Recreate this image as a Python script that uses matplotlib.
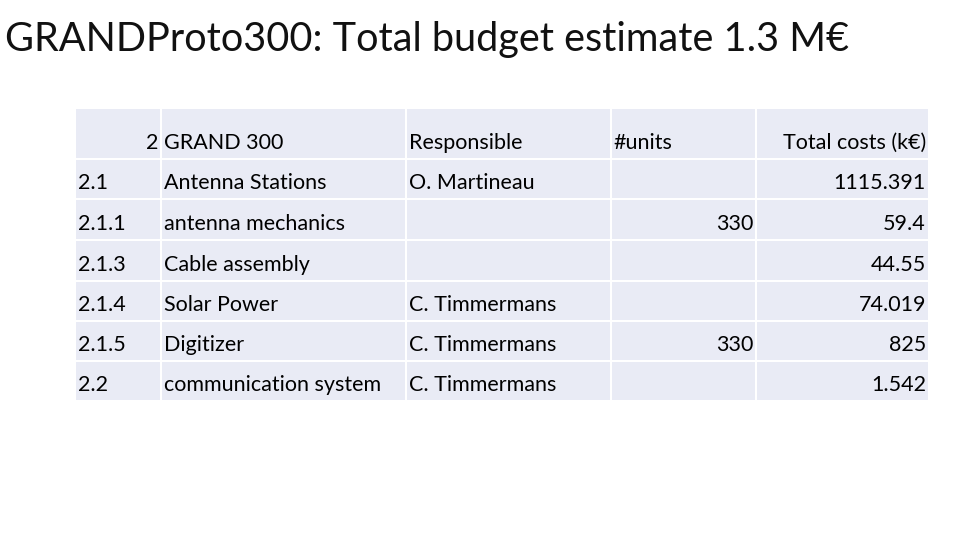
import matplotlib.pyplot as plt
from matplotlib.patches import Rectangle

plt.rcParams['font.family'] = ['Lato', 'DejaVu Sans']

title = "GRANDProto300: Total budget estimate 1.3 M€"
header = ["2", "GRAND 300", "Responsible", "#units", "Total costs (k€)"]
codes = ["2.1", "2.1.1", "2.1.3", "2.1.4", "2.1.5", "2.2"]
items = ["Antenna Stations", "antenna mechanics", "Cable assembly",
         "Solar Power", "Digitizer", "communication system"]
responsible = ["O. Martineau", "", "", "C. Timmermans", "C. Timmermans",
               "C. Timmermans"]
units = ["", "330", "", "", "330", ""]
costs = ["1115.391", "59.4", "44.55", "74.019", "825", "1.542"]

col_x = [75, 161, 406, 611, 756, 929]
row_y = [108, 159, 199, 240, 281, 321, 361, 401]
cell = '#e9ebf5'
fs = 15.5

fig = plt.figure(figsize=(9.6, 5.4), dpi=100)
ax = fig.add_axes([0, 0, 1, 1])
ax.set_xlim(0, 960)
ax.set_ylim(540, 0)
ax.axis('off')

ax.text(5, 40, title, fontsize=28.5, va='center', ha='left', color='#111111')

for r in range(len(row_y) - 1):
    for c in range(len(col_x) - 1):
        ax.add_patch(Rectangle((col_x[c] + 1, row_y[r] + 1),
                               col_x[c + 1] - col_x[c] - 2,
                               row_y[r + 1] - row_y[r] - 2,
                               facecolor=cell, edgecolor='none'))

def put(r, c, s, align='left'):
    yc = row_y[r + 1] - 16
    if align == 'left':
        ax.text(col_x[c] + 3, yc, s, fontsize=fs, va='center', ha='left')
    else:
        ax.text(col_x[c + 1] - 3, yc, s, fontsize=fs, va='center', ha='right')

put(0, 0, header[0], 'right')
put(0, 1, header[1])
put(0, 2, header[2])
ax.text(613, row_y[1] - 16, header[3], fontsize=fs, va='center', ha='left')
put(0, 4, header[4], 'right')
for i in range(len(codes)):
    put(i + 1, 0, codes[i])
    put(i + 1, 1, items[i])
    put(i + 1, 2, responsible[i])
    put(i + 1, 3, units[i], 'right')
    put(i + 1, 4, costs[i], 'right')

fig.savefig('out.png', dpi=100)
